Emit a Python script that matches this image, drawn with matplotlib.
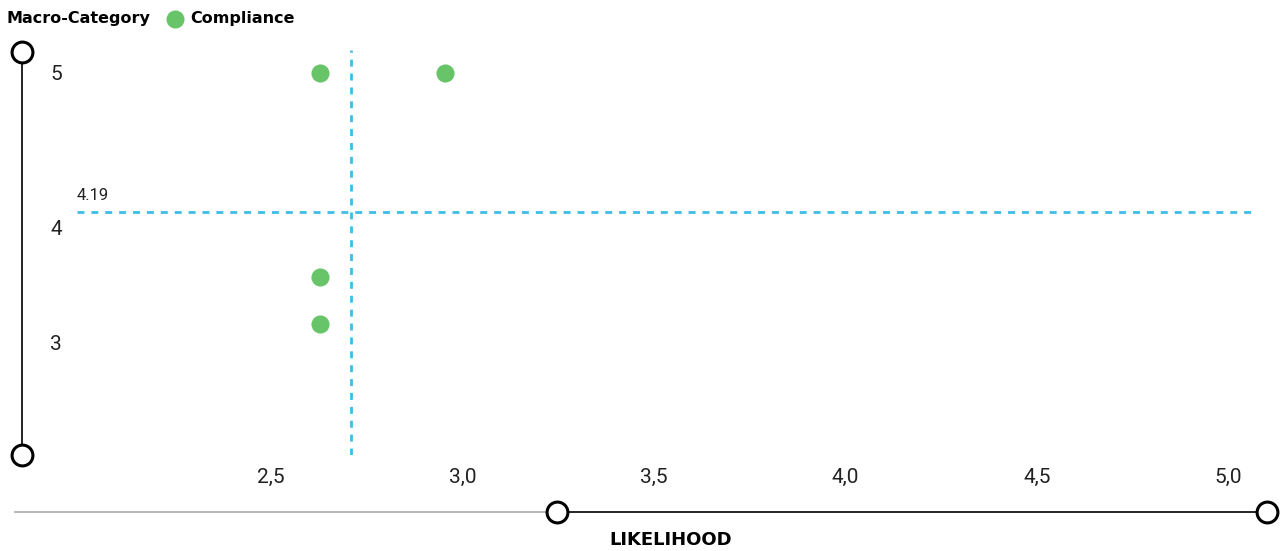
import numpy as np
import matplotlib
matplotlib.use("Agg")
from matplotlib import pyplot as plt
from matplotlib.lines import Line2D

# data
likelihood = [2.628, 2.955, 2.628, 2.628]
impact = [5.0, 5.0, 3.81, 3.54]
impact_mean = 4.19
x_ticks = [2.5, 3.0, 3.5, 4.0, 4.5, 5.0]
x_tick_labels = ['2,5', '3,0', '3,5', '4,0', '4,5', '5,0']
# label positions as drawn in the reference (not evenly spaced)
y_ticks = [5.0, 4.097, 3.43]
y_tick_labels = ['5', '4', '3']
category = 'Compliance'

W, H = 1287, 551
green = '#68c468'
blue = '#3dbde8'
bold_font = ['DejaVu Sans']

plt.rcParams['font.family'] = ['Roboto', 'DejaVu Sans']

fig = plt.figure(figsize=(W / 100, H / 100), dpi=100)
ax = fig.add_axes([77 / W, 1 - 455 / H, (1255 - 77) / W, (455 - 50) / H])

ax.scatter(likelihood, impact, s=170, color=green, zorder=3, linewidths=0)
ax.axhline(impact_mean, color=blue, lw=2, ls=(0, (2.5, 2.5)), zorder=2)
ax.axvline(np.mean(likelihood), color=blue, lw=2, ls=(0, (2.5, 2.5)), zorder=2)
ax.text(1.993, impact_mean + 0.05, f'{impact_mean:.2f}', fontsize=12,
        color='#222222', ha='left', va='bottom')

ax.set_xlim(1.993, 5.07)
ax.set_ylim(2.774, 5.134)
ax.set_xticks(x_ticks, x_tick_labels)
ax.set_yticks(y_ticks, y_tick_labels)
ax.tick_params(length=0, labelsize=15, colors='#222222', pad=9)
ax.tick_params(axis='y', pad=11)
for s in ax.spines.values():
    s.set_visible(False)


def px(x, y):
    return x / W, 1 - y / H


def circle(x, y):
    fig.add_artist(Line2D([px(x, y)[0]], [px(x, y)[1]], marker='o', ms=15,
                          mfc='white', mec='black', mew=2.2, zorder=5))


# decorative axis lines
fig.add_artist(Line2D(*zip(px(22, 52), px(22, 455)), color='black', lw=1.2))
circle(22, 52)
circle(22, 455)
fig.add_artist(Line2D(*zip(px(15, 512), px(557, 512)), color='#aaaaaa', lw=1.2))
fig.add_artist(Line2D(*zip(px(557, 512), px(1267, 512)), color='black', lw=1.2))
circle(557, 512)
circle(1267, 512)

fig.text(*px(671, 540), 'LIKELIHOOD', fontsize=13, fontweight='bold',
         family=bold_font, ha='center', va='center')
fig.text(*px(-9, 255), 'IMPACT', fontsize=12, fontweight='bold',
         family=bold_font, rotation=90, ha='center', va='center')

# legend
fig.text(*px(7, 19), 'Macro-Category', fontsize=11.5, fontweight='bold',
         family=bold_font, ha='left', va='center')
fig.add_artist(Line2D([px(175, 19)[0]], [px(175, 19)[1]], marker='o', ms=13,
                      color=green, mew=0))
fig.text(*px(190, 19), category, fontsize=11.5, fontweight='bold',
         family=bold_font, ha='left', va='center')

fig.savefig('out.png', dpi=100)
